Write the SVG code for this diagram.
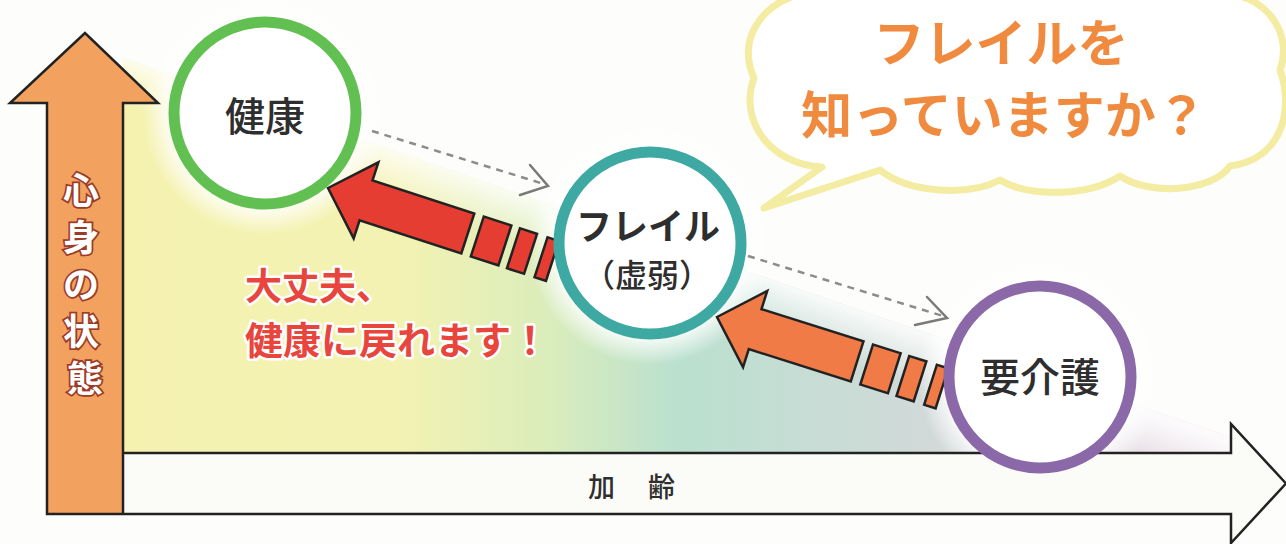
<svg xmlns="http://www.w3.org/2000/svg" xmlns:xlink="http://www.w3.org/1999/xlink" width="1286" height="544" viewBox="0 0 1286 544">
  <style>
    .jp { font-family: "Noto Sans CJK JP", "Noto Sans", sans-serif; }
    .node-label { fill: #2e2e2e; text-anchor: middle; }
    .outline { fill: none; stroke: #222; stroke-width: 2.5; stroke-linejoin: miter; }
    .ring { fill: #ffffff; stroke-width: 11; }
    .dash { fill: none; stroke: #8c8c8c; stroke-width: 2.5; stroke-dasharray: 7 6; }
    .chev { fill: none; stroke: #7a7a7a; stroke-width: 2.5; stroke-linecap: round; }
    .blk { stroke: #222; stroke-width: 2.5; stroke-linejoin: miter; }
    .msg { fill: #e8463d; stroke: #ffffff; stroke-width: 5; paint-order: stroke; stroke-linejoin: round; }
  </style>
  <defs>
    <linearGradient id="bgGrad" gradientUnits="userSpaceOnUse" x1="123" y1="0" x2="1231" y2="0">
      <stop offset="0" stop-color="#f5f2b0"/>
      <stop offset="0.25" stop-color="#f3f2b2"/>
      <stop offset="0.38" stop-color="#dbedbb"/>
      <stop offset="0.5" stop-color="#bae0cf"/>
      <stop offset="0.63" stop-color="#c8dcd5"/>
      <stop offset="0.8" stop-color="#d8d8db"/>
      <stop offset="1" stop-color="#ebdbe7"/>
    </linearGradient>
    <linearGradient id="edgeFade" gradientUnits="userSpaceOnUse" x1="677" y1="248" x2="660" y2="296">
      <stop offset="0" stop-color="#ffffff" stop-opacity="0.85"/>
      <stop offset="1" stop-color="#ffffff" stop-opacity="0"/>
    </linearGradient>
    <radialGradient id="glow">
      <stop offset="0.74" stop-color="#ffffff" stop-opacity="1"/>
      <stop offset="1" stop-color="#ffffff" stop-opacity="0"/>
    </radialGradient>
    <g id="blockArrow">
      <path class="blk" d="M0,0 L40,-40 L40,-21 L147,-21 L147,21 L40,21 L40,40 Z"/>
      <rect class="blk" x="157" y="-21" width="29" height="42"/>
      <rect class="blk" x="195" y="-21" width="18" height="42"/>
      <rect class="blk" x="224" y="-21" width="12" height="42"/>
    </g>
  </defs>

  <rect x="0" y="0" width="1286" height="544" fill="#fdfdfb"/>

  <!-- background slope -->
  <g id="background">
    <polygon points="123,58 1231,437 1231,453 123,453" fill="url(#bgGrad)"/>
    <polygon points="123,58 1231,437 1231,453 123,453" fill="url(#edgeFade)"/>
    <circle cx="265" cy="113" r="122" fill="url(#glow)"/>
    <circle cx="650" cy="243" r="122" fill="url(#glow)"/>
    <circle cx="1040" cy="377" r="122" fill="url(#glow)"/>
  </g>

  <!-- axes -->
  <g id="axes">
    <polygon points="47,514 47,103 10,103 85,33 158,103 123,103 123,514" fill="#f2a15f"/>
    <polygon points="123,453 1231,453 1231,424 1286,483.5 1231,543 1231,514 123,514" fill="#fbfbf7"/>
    <path class="outline" d="M47,514 L47,103 L10,103 L85,33 L158,103 L123,103 L123,453 L1231,453 L1231,424 L1286,483.5 L1231,543 L1231,514 Z M123,453 L123,514"/>
    <text class="jp" x="85" y="204" font-size="36" font-weight="700" fill="#ffffff" stroke="#9b3b28" stroke-width="3.5" paint-order="stroke" text-anchor="middle">
      <tspan x="85" y="204">心</tspan>
      <tspan x="85" y="251">身</tspan>
      <tspan x="85" y="298">の</tspan>
      <tspan x="85" y="345">状</tspan>
      <tspan x="85" y="392">態</tspan>
    </text>
    <text class="jp" x="588" y="497" font-size="27" font-weight="500" fill="#2e2e2e" letter-spacing="3">加　齢</text>
  </g>

  <!-- speech bubble -->
  <g id="bubble">
    <path d="M764,208 L822,167 C772,165 738,122 754,78 C738,42 758,6 800,-6 L1230,-6 C1272,0 1292,38 1280,70 C1295,112 1280,160 1230,166 C1212,192 1150,196 1120,176 C1090,196 1030,198 1000,180 C970,196 910,194 880,170 Z" fill="#ffffff" stroke="#f3eca2" stroke-width="7" stroke-linejoin="round"/>
    <text class="jp" x="1001" y="62" font-size="51" font-weight="700" fill="#f08a3e" text-anchor="middle">フレイルを</text>
    <text class="jp" x="1004" y="134" font-size="51" font-weight="700" fill="#f08a3e" text-anchor="middle">知っていますか？</text>
  </g>

  <!-- connectors -->
  <g id="connectors">
    <line class="dash" x1="372" y1="131" x2="544" y2="184"/>
    <polyline class="chev" points="530,165 548,186 520,195"/>
    <line class="dash" x1="748" y1="256" x2="943" y2="316"/>
    <polyline class="chev" points="927,297 947,318 915,325"/>
    <use xlink:href="#blockArrow" href="#blockArrow" fill="#e63d33" transform="translate(328,188) rotate(18)"/>
    <use xlink:href="#blockArrow" href="#blockArrow" fill="#f07b47" transform="translate(717,317) rotate(17.6)"/>
  </g>

  <!-- nodes -->
  <g id="node-kenkou">
    <circle class="ring" cx="265" cy="113" r="91" stroke="#62c052"/>
    <text class="jp node-label" x="265" y="131" font-size="40" font-weight="500">健康</text>
  </g>
  <g id="node-frail">
    <circle class="ring" cx="650" cy="243" r="91" stroke="#3ea9a2"/>
    <text class="jp node-label" x="648" y="240" font-size="36" font-weight="700">フレイル</text>
    <text class="jp node-label" x="647" y="287" font-size="32" font-weight="500">（虚弱）</text>
  </g>
  <g id="node-kaigo">
    <circle class="ring" cx="1040" cy="377" r="91" stroke="#8b69a8"/>
    <text class="jp node-label" x="1040" y="392" font-size="40" font-weight="500">要介護</text>
  </g>

  <!-- message -->
  <g id="message">
    <text class="jp msg" x="245" y="300" font-size="37" font-weight="700">大丈夫、</text>
    <text class="jp msg" x="245" y="354" font-size="38" font-weight="700">健康に戻れます！</text>
  </g>
</svg>
